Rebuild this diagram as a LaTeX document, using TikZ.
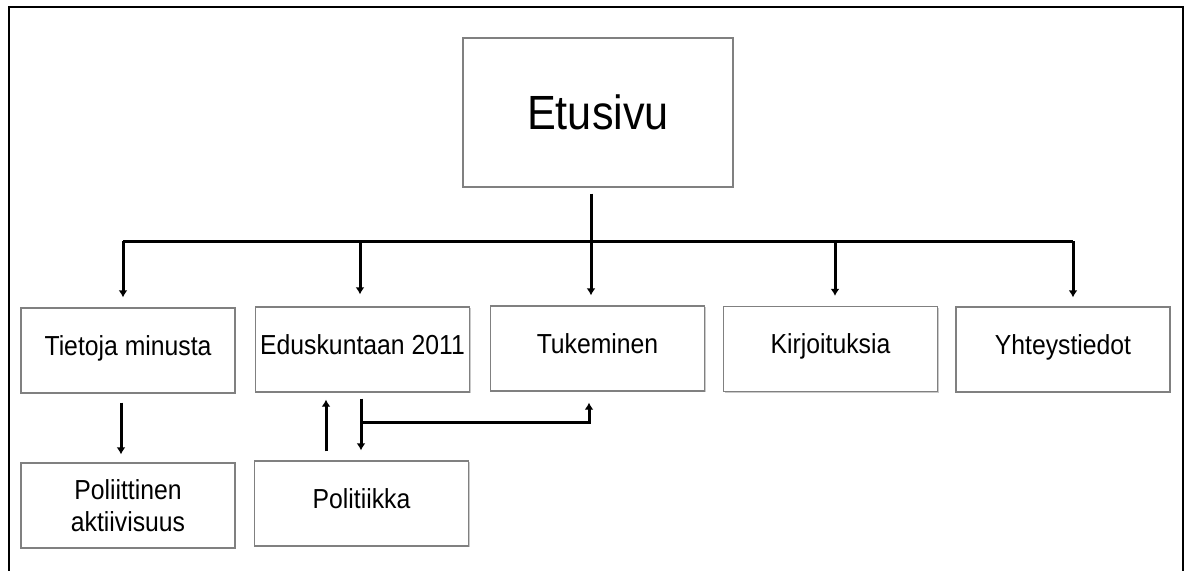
\documentclass[tikz,border=0pt]{standalone}
\usepackage{fontspec}
\setmainfont{Liberation Sans}
\newfontfamily\boxfont[FakeStretch=0.9]{Liberation Sans}
\usetikzlibrary{arrows.meta,shadows}
\begin{document}
\begin{tikzpicture}[x=1pt,y=-1pt,
  box/.style={draw=black!50, line width=1.4pt, fill=white, minimum width=214pt, minimum height=85pt, inner sep=0pt,
    drop shadow={shadow xshift=1.2pt, shadow yshift=-1.2pt, opacity=0.35, fill=black!60},
    font=\boxfont\fontsize{27.5}{31}\selectfont},
  onel/.style={text height=15pt, text depth=6pt},
  ln/.style={line width=3pt, black},
  arr/.style={line width=3pt, black, -{Latex[length=7pt,width=9pt]}}]
\useasboundingbox (0,0) rectangle (1190,570);
\draw[line width=2.2pt] (9,7) rectangle (1183,590);
% nodes
\node[box, minimum width=270pt, minimum height=149pt, font=\boxfont\fontsize{48}{54}\selectfont] (etu) at (598,112.5) {Etusivu};
\node[box, onel] (tiet) at (128,350.5) {Tietoja minusta};
\node[box, onel] (edu) at (362.5,349.5) {Eduskuntaan 2011};
\node[box, onel] (tuk) at (597.5,348.5) {Tukeminen};
\node[box, onel] (kir) at (830.5,349) {Kirjoituksia};
\node[box, onel] (yht) at (1063,349.5) {Yhteystiedot};
\node[box, align=center] (pol) at (128,505.5) {Poliittinen\\[1pt]aktiivisuus};
\node[box, onel] (polk) at (361.5,503.5) {Politiikka};
% bus
\coordinate (b1) at (123,241);
\coordinate (b2) at (360,241);
\coordinate (b4) at (835,241);
\coordinate (b5) at (1073,241);
\coordinate (j1) at (361,422);
\draw[ln] (b1) -- (b5);
\draw[arr] ([xshift=-7pt,yshift=-6pt]etu.south) -- ([xshift=-6.5pt,yshift=10pt]tuk.north);
\draw[arr] (b1) -- ([xshift=-5pt,yshift=10pt]tiet.north);
\draw[arr] (b2) -- ([xshift=-2.5pt,yshift=12pt]edu.north);
\draw[arr] (b4) -- ([xshift=4.5pt,yshift=10pt]kir.north);
\draw[arr] (b5) -- ([xshift=10pt,yshift=9pt]yht.north);
% second level
\draw[arr] ([xshift=-7pt,yshift=-9pt]tiet.south) -- ([xshift=-7pt,yshift=8pt]pol.north);
\draw[arr] ([xshift=-35.5pt,yshift=9pt]polk.north) -- ([xshift=-36.5pt,yshift=-7pt]edu.south);
\draw[arr] ([xshift=-1.5pt,yshift=-6pt]edu.south) -- ([xshift=-0.5pt,yshift=10pt]polk.north);
\draw[arr] (j1) -| ([xshift=-8.5pt,yshift=-11pt]tuk.south);
\end{tikzpicture}
\end{document}
